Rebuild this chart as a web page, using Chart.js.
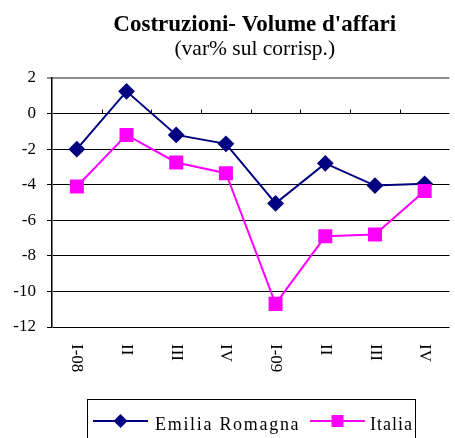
<!DOCTYPE html>
<html>
<head>
<meta charset="utf-8">
<script src="https://cdn.jsdelivr.net/npm/chart.js@4.4.0/dist/chart.umd.min.js"></script>
<style>
  html, body { margin: 0; padding: 0; background: #fff; overflow: hidden; }
</style>
</head>
<body>
<canvas id="chart" width="460" height="438"></canvas>
<script>
const quarters = ['I-08', 'II', 'III', 'IV', 'I-09', 'II', 'III', 'IV'];
const emiliaRomagna = [-2.0, 1.25, -1.2, -1.7, -5.05, -2.8, -4.05, -3.95];
const italia = [-4.1, -1.2, -2.75, -3.35, -10.7, -6.9, -6.8, -4.35];
const yMin = -12;
const yMax = 2;
const yStep = 2;

const SERIF = "'Liberation Serif', 'Times New Roman', serif";
const NAVY = '#000080';
const MAGENTA = '#ff00ff';

// titles, rotated quarter labels and the boxed legend, drawn by hand
const decorations = {
    id: 'decorations',
    afterDraw(chart) {
        const ctx = chart.ctx;
        const area = chart.chartArea;
        const xScale = chart.scales.x;
        const yScale = chart.scales.y;
        const cx = (area.left + area.right) / 2 + 4;

        ctx.save();
        ctx.fillStyle = '#000';
        ctx.textAlign = 'center';
        ctx.textBaseline = 'alphabetic';
        ctx.font = 'bold 23px ' + SERIF;
        ctx.fillText("Costruzioni- Volume d'affari", cx, 31);
        ctx.font = '21.5px ' + SERIF;
        ctx.fillText('(var% sul corrisp.)', cx, 55);

        // little category ticks on the zero line
        const y0 = yScale.getPixelForValue(0);
        ctx.strokeStyle = '#000';
        ctx.lineWidth = 1;
        for (let i = 1; i < quarters.length; i++) {
            const x = Math.round(xScale.getPixelForValue(i - 0.5)) + 0.5;
            ctx.beginPath();
            ctx.moveTo(x, y0);
            ctx.lineTo(x, y0 - 4);
            ctx.stroke();
        }

        // quarter labels, reading top to bottom
        ctx.font = '17px ' + SERIF;
        ctx.textAlign = 'left';
        ctx.textBaseline = 'middle';
        quarters.forEach((q, i) => {
            const x = xScale.getPixelForTick(i);
            ctx.save();
            ctx.translate(x, area.bottom + 17);
            ctx.rotate(Math.PI / 2);
            ctx.fillText(q, 0, 0);
            ctx.restore();
        });

        // legend
        ctx.strokeStyle = '#000';
        ctx.lineWidth = 1;
        ctx.strokeRect(87.5, 399.5, 328, 50);
        const ly = 421;
        const items = [
            { label: 'Emilia Romagna', color: NAVY, style: 'diamond', x0: 93, x1: 148, tx: 155 },
            { label: 'Italia', color: MAGENTA, style: 'square', x0: 310, x1: 365, tx: 370 }
        ];
        ctx.font = '18px ' + SERIF;
        ctx.letterSpacing = '1.7px';
        ctx.textBaseline = 'alphabetic';
        items.forEach(it => {
            ctx.strokeStyle = it.color;
            ctx.lineWidth = 2;
            ctx.beginPath();
            ctx.moveTo(it.x0, ly);
            ctx.lineTo(it.x1, ly);
            ctx.stroke();
            const mx = (it.x0 + it.x1) / 2;
            ctx.fillStyle = it.color;
            ctx.beginPath();
            if (it.style === 'diamond') {
                ctx.moveTo(mx, ly - 7);
                ctx.lineTo(mx + 7, ly);
                ctx.lineTo(mx, ly + 7);
                ctx.lineTo(mx - 7, ly);
                ctx.closePath();
            } else {
                ctx.rect(mx - 6, ly - 6, 12, 12);
            }
            ctx.fill();
            ctx.fillStyle = '#000';
            ctx.letterSpacing = it.style === 'square' ? '1px' : '1.7px';
            ctx.fillText(it.label, it.tx, 430);
        });
        ctx.restore();
    }
};

new Chart(document.getElementById('chart'), {
    type: 'line',
    data: {
        labels: quarters,
        datasets: [{
            label: 'Emilia Romagna',
            data: emiliaRomagna,
            borderColor: NAVY,
            backgroundColor: NAVY,
            borderWidth: 2,
            pointStyle: 'rectRot',
            pointRadius: 7,
            tension: 0,
            order: 1
        }, {
            label: 'Italia',
            data: italia,
            borderColor: MAGENTA,
            backgroundColor: MAGENTA,
            borderWidth: 2,
            pointStyle: 'rect',
            pointRadius: 8.5,
            tension: 0,
            order: 0
        }]
    },
    options: {
        responsive: false,
        animation: false,
        layout: { padding: { top: 78, right: 2, bottom: 0, left: 0 } },
        scales: {
            x: {
                type: 'category',
                offset: true,
                grid: { display: false },
                border: { display: false },
                ticks: { display: false },
                afterFit: (scale) => { scale.height = 111; }
            },
            y: {
                min: yMin,
                max: yMax,
                ticks: {
                    stepSize: yStep,
                    color: '#000',
                    padding: 11,
                    font: { family: SERIF, size: 17 }
                },
                grid: {
                    color: (c) => c.tick && c.tick.value === yMax ? '#8c8c8c' : '#000',
                    lineWidth: (c) => c.tick && c.tick.value === yMax ? 2 : 1,
                    tickLength: 5
                },
                border: { display: true, color: '#000', width: 1.5 },
                afterFit: (scale) => { scale.width = 52; }
            }
        },
        plugins: {
            legend: { display: false },
            tooltip: { enabled: false },
            title: { display: false }
        }
    },
    plugins: [decorations]
});
</script>
</body>
</html>
